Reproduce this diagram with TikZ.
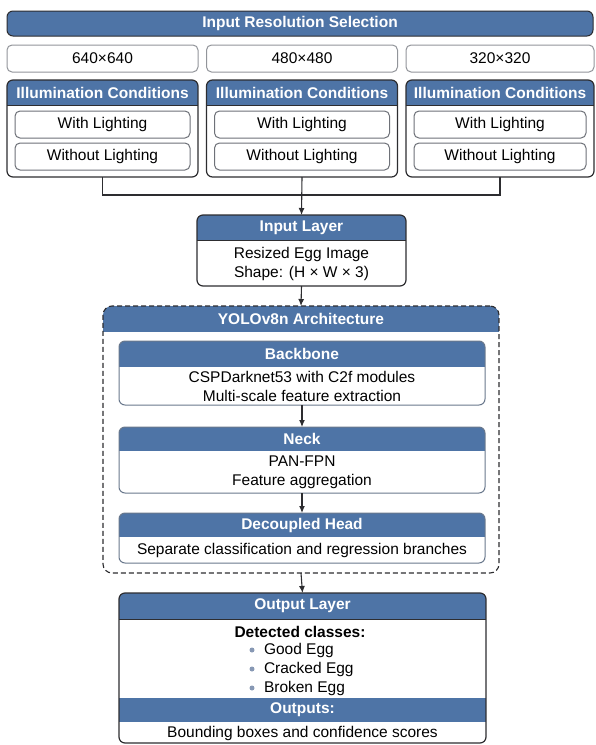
\documentclass[tikz,border=0pt]{standalone}
\usepackage{fontspec}
\setmainfont{Liberation Sans}
\usetikzlibrary{arrows.meta}
\definecolor{hblue}{RGB}{78,116,166}
\definecolor{dark}{RGB}{45,45,48}
\definecolor{optgray}{RGB}{110,113,120}
\definecolor{slate}{RGB}{105,120,140}
\definecolor{dotblue}{RGB}{135,152,180}

\begin{document}
\begin{tikzpicture}[x=1pt, y=-1pt,
  every node/.style={inner sep=0pt, outer sep=0pt, align=center, font=\fontsize{15.5}{19}\selectfont},
  bar/.style={fill=hblue, draw=dark, line width=1pt, rounded corners=6pt, text=white, font=\fontsize{15.5}{19}\selectfont\bfseries},
  htext/.style={text=white, anchor=north, minimum height=25pt, font=\fontsize{15.5}{19}\selectfont\bfseries},
  resbox/.style={draw=optgray!75, line width=1pt, rounded corners=5pt, fill=white},
  optbox/.style={draw=optgray, line width=1pt, rounded corners=5pt, fill=white},
  panel/.style={draw=dark, line width=1.2pt, rounded corners=6pt, fill=white,
    path picture={
      \fill[hblue, sharp corners] (path picture bounding box.north west) rectangle ([yshift=-25pt]path picture bounding box.north east);
      \draw[dark, line width=1pt] ([yshift=-25pt]path picture bounding box.north west) -- ([yshift=-25pt]path picture bounding box.north east);}},
  stage/.style={draw=slate, line width=1pt, rounded corners=6pt, fill=white,
    path picture={
      \fill[hblue, sharp corners] (path picture bounding box.north west) rectangle ([yshift=-#1]path picture bounding box.north east);}},
  frame/.style={draw=dark, line width=1.1pt, dash pattern=on 5pt off 3pt, rounded corners=9pt, fill=white,
    path picture={
      \fill[hblue, sharp corners] (path picture bounding box.north west) rectangle ([yshift=-26pt]path picture bounding box.north east);}},
  wire/.style={draw=dark, line width=1.1pt},
  arr/.style={wire, -{Latex[length=7pt,width=6pt]}},
  dot/.style={circle, fill=dotblue, minimum size=5pt}
]
\useasboundingbox[fill=white] (0,0) rectangle (595,745);

% resolutions
\node[bar, minimum width=586pt, minimum height=25pt] (sel) at (300,23.5) {Input Resolution Selection};
\node[resbox, minimum width=191pt, minimum height=27pt] (r640) at (102.5,58.5) {640×640};
\node[resbox, minimum width=191pt, minimum height=27pt] (r480) at (302,58.5) {480×480};
\node[resbox, minimum width=188pt, minimum height=27pt] (r320) at (500,58.5) {320×320};

% illumination panels
\node[panel, minimum width=191pt, minimum height=97pt] (p640) at (102.5,128.5) {};
\node[panel, minimum width=191pt, minimum height=97pt] (p480) at (302,128.5) {};
\node[panel, minimum width=188pt, minimum height=97pt] (p320) at (500,128.5) {};
\node[htext] (p640h) at (p640.north) {Illumination Conditions};
\node[htext] (p480h) at (p480.north) {Illumination Conditions};
\node[htext] (p320h) at (p320.north) {Illumination Conditions};

\node[optbox, minimum width=175pt, minimum height=27pt] (w640) at (102.5,124.5) {With Lighting};
\node[optbox, minimum width=175pt, minimum height=27pt] (wo640) at (102.5,156.5) {Without Lighting};
\node[optbox, minimum width=175pt, minimum height=27pt] (w480) at (302,124.5) {With Lighting};
\node[optbox, minimum width=175pt, minimum height=27pt] (wo480) at (302,156.5) {Without Lighting};
\node[optbox, minimum width=172pt, minimum height=27pt] (w320) at (500,124.5) {With Lighting};
\node[optbox, minimum width=172pt, minimum height=27pt] (wo320) at (500,156.5) {Without Lighting};

% input layer
\node[panel, minimum width=209pt, minimum height=71pt] (inl) at (301.5,250.5) {};
\node[htext] (inlh) at (inl.north) {Input Layer};
\node (inlb) at (301.5,263.5) {Resized Egg Image\\Shape: (H × W × 3)};

\coordinate (jn) at (302,195);
\draw[wire] (p640.south) |- (jn) -| (p320.south);
\draw[arr] (p480.south) -- (inl.north);

% yolov8n
\node[frame, minimum width=396pt, minimum height=267pt] (yolo) at (301,439.5) {};
\node[htext, minimum height=26pt] (yoloh) at (yolo.north) {YOLOv8n Architecture};

\node[stage=26pt, minimum width=366pt, minimum height=64pt] (bb) at (302,373) {};
\node[htext, minimum height=26pt] (bbh) at (bb.north) {Backbone};
\node (bbb) at (302,386.5) {CSPDarknet53 with C2f modules\\Multi-scale feature extraction};

\node[stage=24pt, minimum width=366pt, minimum height=66pt] (nk) at (302,460) {};
\node[htext, minimum height=24pt] (nkh) at (nk.north) {Neck};
\node (nkb) at (302,472.5) {PAN-FPN\\Feature aggregation};

\node[stage=24pt, minimum width=366pt, minimum height=50pt] (dh) at (302,538) {};
\node[htext, minimum height=24pt] (dhh) at (dh.north) {Decoupled Head};
\node (dhb) at (302,550.5) {Separate classification and regression branches};

\draw[arr] (inl.south) -- (yolo.north);
\draw[arr] (bb.south) -- (nk.north);
\draw[arr] (nk.south) -- (dh.north);

% output layer
\node[draw=dark, line width=1.2pt, rounded corners=6pt, fill=white, minimum width=367pt, minimum height=150pt,
  path picture={
    \fill[hblue, sharp corners] (path picture bounding box.north west) rectangle ([yshift=-26pt]path picture bounding box.north east);
    \draw[dark, line width=1pt] ([yshift=-26pt]path picture bounding box.north west) -- ([yshift=-26pt]path picture bounding box.north east);
    \fill[hblue, sharp corners] ([yshift=-105pt]path picture bounding box.north west) rectangle ([yshift=-129pt]path picture bounding box.north east);}
  ] (out) at (302.5,668) {};
\node[htext, minimum height=26pt] (outh) at (out.north) {Output Layer};
\node[font=\fontsize{15.5}{19}\selectfont\bfseries] (cls) at (300,632) {Detected classes:};
\node[dot] (d1) at (252,650) {};
\node[dot] (d2) at (252,669) {};
\node[dot] (d3) at (252,688) {};
\node[anchor=west] (c1) at (264,650) {Good Egg};
\node[anchor=west] (c2) at (264,669) {Cracked Egg};
\node[anchor=west] (c3) at (264,688) {Broken Egg};
\node[text=white, font=\fontsize{15.5}{19}\selectfont\bfseries] (outs) at (302.5,710) {Outputs:};
\node (outb) at (302.5,733) {Bounding boxes and confidence scores};

\draw[arr] (yolo.south) -- (out.north);
\end{tikzpicture}
\end{document}
